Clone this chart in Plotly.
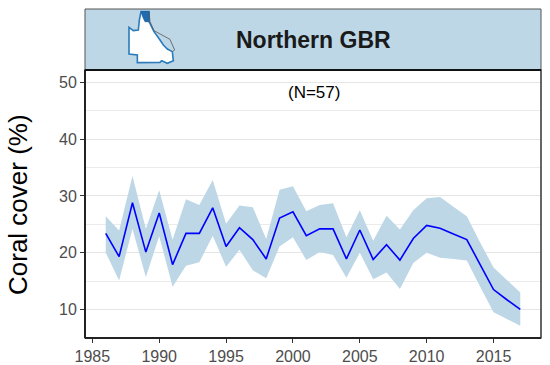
import plotly.graph_objects as go

years = list(range(1986, 2018))
mean_cover = [23.4, 19.3, 28.8, 20.1, 27.0, 17.9, 23.4, 23.4, 27.9, 21.1, 24.4, 22.3, 18.9, 26.1, 27.2, 23.0,
              24.2, 24.2, 18.9, 24.0, 18.8, 21.4, 18.7, 22.5, 24.8, 24.3, 23.3, 22.3, 17.9, 13.5, 11.7, 10.0]
upper = [26.4, 23.9, 33.5, 24.2, 31.0, 22.3, 29.4, 28.4, 32.8, 25.1, 28.3, 28.0, 22.4, 31.1, 31.7, 27.3,
         28.4, 28.7, 22.7, 27.5, 22.1, 26.5, 24.1, 27.5, 29.6, 29.8, 28.1, 26.4, 21.8, 17.4, 15.2, 13.0]
lower = [20.0, 15.1, 24.2, 15.7, 22.9, 14.0, 17.7, 18.3, 23.0, 17.5, 20.5, 16.9, 15.5, 21.1, 22.7, 18.7,
         20.1, 19.6, 15.6, 20.0, 15.3, 16.5, 13.6, 18.2, 20.0, 19.1, 18.9, 18.6, 14.0, 9.5, 8.3, 7.1]
x_ticks = [1985, 1990, 1995, 2000, 2005, 2010, 2015]
y_ticks = [10, 20, 30, 40, 50]
y_minor = [5, 15, 25, 35, 45]
title = "Northern GBR"
note = "(N=57)"
y_label = "Coral cover (%)"

W, H = 550, 365
L, R, T, B = 85, 541, 70, 338
STRIP_TOP = 9
FONT = "Liberation Sans"
BAND = "#BDD7E7"

def px(x): return (x - L) / (R - L)
def py(y): return (B - y) / (B - T)

def path(points, close=True):
    s = "M " + " L ".join(f"{px(80 + a / 3):.4f},{py(b / 3):.4f}" for a, b in points)
    return s + (" Z" if close else "")

# small locator map of Queensland, in strip pixels (zoom-crop coordinates)
state = [(183, 35), (207, 35), (207, 65), (222, 95), (240, 120), (250, 135), (262, 147), (277, 155), (280, 182),
         (262, 190), (245, 182), (240, 187), (172, 188), (172, 165), (147, 162), (147, 82), (160, 92), (175, 90),
         (178, 60)]
region = [(183, 35), (207, 35), (207, 65), (195, 65), (188, 50)]
reef = [(207, 35), (210, 65), (222, 92), (270, 118), (284, 150), (277, 155)]

fig = go.Figure()
fig.add_trace(go.Scatter(x=years, y=upper, mode="lines", line=dict(width=0), showlegend=False, hoverinfo="skip"))
fig.add_trace(go.Scatter(x=years, y=lower, mode="lines", line=dict(width=0), fill="tonexty", fillcolor=BAND,
                         showlegend=False, hoverinfo="skip"))
fig.add_trace(go.Scatter(x=years, y=mean_cover, mode="lines", line=dict(color="#0000FF", width=1.6), showlegend=False))

shapes = [
    dict(type="rect", xref="paper", yref="paper", x0=px(L), x1=px(R), y0=py(T), y1=py(STRIP_TOP),
         fillcolor=BAND, line=dict(color="#555555", width=1)),
    dict(type="path", xref="paper", yref="paper", path=path(state), fillcolor="white",
         line=dict(color="#2B7BBA", width=1.6)),
    dict(type="path", xref="paper", yref="paper", path=path(region), fillcolor="#1F6DB0",
         line=dict(color="#1F5F9F", width=0.8)),
    dict(type="path", xref="paper", yref="paper", path=path(reef, close=False),
         line=dict(color="#555555", width=0.8)),
    dict(type="rect", xref="paper", yref="paper", x0=px(L), x1=px(R), y0=py(B), y1=py(T),
         line=dict(color="black", width=1.2)),
    dict(type="line", xref="paper", yref="paper", x0=px(L), x1=px(L), y0=py(B), y1=py(T),
         line=dict(color="#222222", width=2)),
    dict(type="line", xref="paper", yref="paper", x0=px(L), x1=px(R), y0=py(B), y1=py(B),
         line=dict(color="#222222", width=2)),
    dict(type="line", xref="paper", yref="paper", x0=px(L), x1=px(R), y0=py(T), y1=py(T),
         line=dict(color="#111111", width=2)),
]

fig.update_layout(
    width=W, height=H, autosize=False,
    margin=dict(l=L, r=W - R, t=T, b=H - B, pad=0),
    paper_bgcolor="white", plot_bgcolor="white",
    font=dict(family=FONT, color="#4D4D4D", size=16),
    shapes=shapes,
    xaxis=dict(range=[1984.45, 2018.55], tickvals=x_ticks, showgrid=False, zeroline=False, ticks="outside",
               automargin=False, ticklen=4, tickwidth=1, tickcolor="#333333", tickfont=dict(size=16, color="#4D4D4D")),
    yaxis=dict(range=[4.96, 52.2], tickvals=y_ticks, showgrid=True, gridcolor="#E5E5E5", gridwidth=1, zeroline=False,
               automargin=False, ticks="outside", ticklen=4, tickwidth=1, tickcolor="#333333",
               tickfont=dict(size=16, color="#4D4D4D"),
               minor=dict(tickvals=y_minor, showgrid=True, gridcolor="#EBEBEB", gridwidth=1, ticks="")),
    annotations=[
        dict(text=f"<b>{title}</b>", xref="paper", yref="paper", x=px(313), y=py(40), xanchor="center", yanchor="middle",
             showarrow=False, font=dict(family=FONT, size=23, color="#1A1A1A")),
        dict(text=note, xref="paper", yref="paper", x=px(314), y=py(92), xanchor="center", yanchor="middle",
             showarrow=False, font=dict(family=FONT, size=17, color="black")),
        dict(text=y_label, xref="paper", yref="paper", x=px(18), y=py(205), xanchor="center", yanchor="middle",
             textangle=-90, showarrow=False, font=dict(family=FONT, size=26, color="black")),
    ],
)
fig.write_html("out.html", config=dict(displayModeBar=False),
               post_script="document.body.style.margin='0';")
